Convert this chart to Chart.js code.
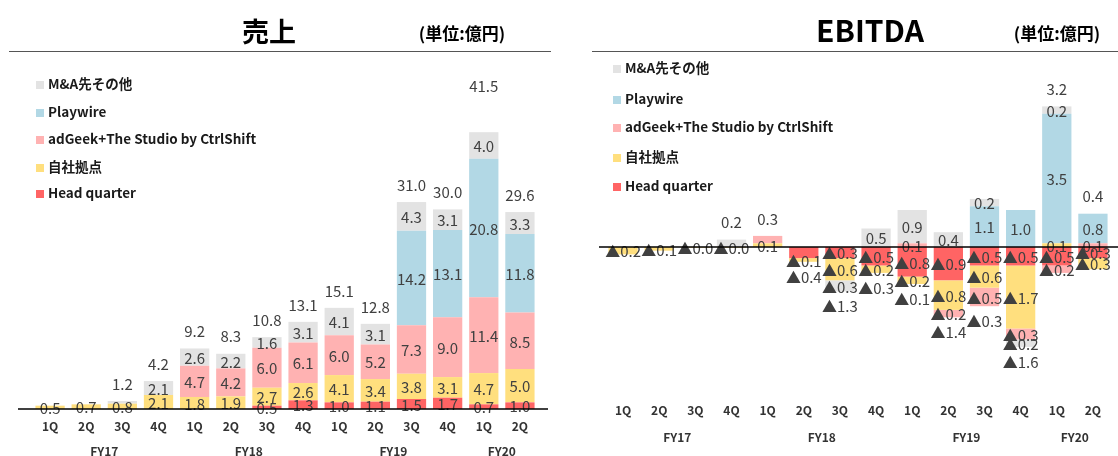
<!DOCTYPE html>
<html><head><meta charset="utf-8">
<script src="https://cdn.jsdelivr.net/npm/chart.js@4.4.0/dist/chart.umd.min.js"></script>
<style>
html,body{margin:0;padding:0;background:#fff;width:1118px;height:456px;overflow:hidden;font-family:"Noto Sans CJK JP",sans-serif;}
canvas{position:absolute;top:0;}
#cL{left:0;} #cR{left:560px;}
.t{position:absolute;white-space:nowrap;color:#000;font-weight:bold;transform:translate(-50%,-50%);line-height:1;}
.rule{position:absolute;height:1px;background:#555;}
.lg{position:absolute;font-weight:bold;font-size:13.5px;color:#1a1a1a;white-space:nowrap;line-height:16px;transform:translateY(-50%);}
.sw{display:inline-block;width:8px;height:8px;margin-right:4px;vertical-align:0px;}
</style>
</head><body>
<canvas id="cL" width="560" height="456"></canvas>
<canvas id="cR" width="558" height="456"></canvas>
<div class="t" style="left:269px;top:30px;font-size:27px;">売上</div>
<div class="t" style="left:462px;top:32px;font-size:17px;">(単位:億円)</div>
<div class="rule" style="left:9px;top:51px;width:542px;"></div>
<div class="t" style="left:870px;top:29px;font-size:30px;">EBITDA</div>
<div class="t" style="left:1057px;top:32px;font-size:17px;">(単位:億円)</div>
<div class="rule" style="left:592px;top:51px;width:526px;"></div>
<div id="legL"></div><div id="legR"></div>
<script>
const quarters = ['1Q','2Q','3Q','4Q','1Q','2Q','3Q','4Q','1Q','2Q','3Q','4Q','1Q','2Q'];
const fiscalYears = ['FY17','FY18','FY19','FY20'];
const fyQuarterCounts = [4,4,4,2];
const seriesNames = ['Head quarter','自社拠点','adGeek+The Studio by CtrlShift','Playwire','M&A先その他'];
const seriesColors = ['#FF6464','#FFDF7E','#FFB2B2','#B2D8E5','#E3E3E3'];

// 売上 (億円)
const salesHQ       = [null,null,null,null,null,null,0.5,1.3,1.0,1.1,1.5,1.7,0.7,1.0];
const salesOwn      = [0.5,0.7,0.8,2.1,1.8,1.9,2.7,2.6,4.1,3.4,3.8,3.1,4.7,5.0];
const salesAdGeek   = [null,null,null,null,4.7,4.2,6.0,6.1,6.0,5.2,7.3,9.0,11.4,8.5];
const salesPlaywire = [null,null,null,null,null,null,null,null,null,null,14.2,13.1,20.8,11.8];
const salesMA       = [null,null,0.4,2.1,2.6,2.2,1.6,3.1,4.1,3.1,4.3,3.1,4.0,3.3];
const salesTotals   = [null,null,1.2,4.2,9.2,8.3,10.8,13.1,15.1,12.8,31.0,30.0,41.5,29.6];

// EBITDA (億円)
const ebitdaHQ       = [null,null,null,null,null,-0.3,-0.3,-0.5,-0.8,-0.9,-0.5,-0.5,-0.5,-0.3];
const ebitdaOwn      = [-0.2,-0.1,-0.02,-0.02,0.1,-0.1,-0.6,-0.2,-0.2,-0.8,-0.6,-1.7,0.1,-0.3];
const ebitdaAdGeek   = [null,null,null,null,0.2,null,null,null,0.1,-0.2,-0.5,-0.3,-0.2,0.1];
const ebitdaPlaywire = [null,null,null,null,null,null,null,null,null,null,1.1,1.0,3.5,0.8];
const ebitdaMA       = [null,null,null,0.2,null,null,-0.3,0.5,0.9,0.4,0.2,-0.2,0.2,null];
const ebitdaTotals   = [null,null,null,0.2,0.3,-0.4,-1.3,-0.3,-0.1,-1.4,-0.3,-1.6,3.2,0.4];

const FONT = "'Noto Sans CJK JP', 'Noto Sans', sans-serif";
function fmt(v){ return v < 0 ? '▲' + Math.abs(v).toFixed(1) : v.toFixed(1); }

function makeLabelPlugin(cfg){
  return {
    id: 'stackLabels',
    afterDatasetsDraw(chart){
      const ctx = chart.ctx, ys = chart.scales.y, xs = chart.scales.x, ca = chart.chartArea;
      ctx.save();
      ctx.font = cfg.font; ctx.fillStyle = '#404040';
      ctx.textAlign = 'center'; ctx.textBaseline = 'middle';
      chart.data.datasets.forEach((ds, di) => {
        const meta = chart.getDatasetMeta(di);
        meta.data.forEach((bar, i) => {
          const v = ds.data[i];
          if (v === null || v === undefined) return;
          if (cfg.skip.some(s => s[0] === di && s[1] === i)) return;
          ctx.fillText(fmt(v), bar.x, (bar.y + bar.base) / 2 + 1);
        });
      });
      cfg.totals.forEach((t, i) => {
        if (t === null) return;
        let pos = 0, neg = 0;
        chart.data.datasets.forEach(ds => { const v = ds.data[i]; if (v > 0) pos += v; else if (v < 0) neg += v; });
        const x = xs.getPixelForValue(i);
        const y = t >= 0 ? ys.getPixelForValue(pos) - cfg.gapAbove + (cfg.nudge[i] || 0)
                         : ys.getPixelForValue(neg) + cfg.gapBelow;
        ctx.fillText(fmt(t), x, y);
      });
      const y0 = ys.getPixelForValue(0);
      ctx.strokeStyle = '#000'; ctx.lineWidth = 1.6;
      ctx.beginPath(); ctx.moveTo(ca.left - cfg.extL, y0); ctx.lineTo(ca.right + cfg.extR, y0); ctx.stroke();
      ctx.font = 'bold 12px ' + FONT; ctx.fillStyle = '#333';
      let start = 0;
      fyQuarterCounts.forEach((n, g) => {
        const x = (xs.getPixelForValue(start) + xs.getPixelForValue(start + n - 1)) / 2;
        ctx.fillText(fiscalYears[g], x, ca.bottom + cfg.fyDy);
        start += n;
      });
      ctx.restore();
    }
  };
}

function makeDatasets(arrs){
  return arrs.map((d, k) => ({
    label: seriesNames[k], data: d, backgroundColor: seriesColors[k],
    borderWidth: 0, barPercentage: 0.81, categoryPercentage: 1.0
  }));
}

function makeChart(id, arrs, yMin, yMax, pad, axisH, tickPad, plugin){
  return new Chart(document.getElementById(id), {
    type: 'bar',
    data: { labels: quarters, datasets: makeDatasets(arrs) },
    options: {
      responsive: false, animation: false, devicePixelRatio: 1,
      layout: { padding: pad },
      plugins: { legend: { display: false }, tooltip: { enabled: false } },
      scales: {
        x: { stacked: true, grid: { display: false, drawTicks: false }, border: { display: false },
             ticks: { font: { family: FONT, size: 12, weight: 'bold' }, color: '#333', padding: tickPad, maxRotation: 0 },
             afterFit: s => { s.height = axisH; } },
        y: { stacked: true, display: false, min: yMin, max: yMax }
      }
    },
    plugins: [plugin]
  });
}

makeChart('cL', [salesHQ, salesOwn, salesAdGeek, salesPlaywire, salesMA], 0, 52,
  { left: 32, right: 22, top: 63, bottom: 0 }, 47, 10,
  makeLabelPlugin({ font: '15px ' + FONT, totals: salesTotals, skip: [[4,2]], gapAbove: 17, gapBelow: 15,
    nudge: { 12: -29 }, extL: 14, extR: 10, fyDy: 42 }));

makeChart('cR', [ebitdaHQ, ebitdaOwn, ebitdaAdGeek, ebitdaPlaywire, ebitdaMA], -4, 5,
  { left: 45, right: 7, top: 62, bottom: 0 }, 61, 8,
  makeLabelPlugin({ font: '15px ' + FONT, totals: ebitdaTotals, skip: [[4,3],[2,4],[0,5]], gapAbove: 17, gapBelow: 15,
    nudge: {}, extL: 6, extR: 10, fyDy: 42 }));

function legend(el, x, ys){
  const host = document.getElementById(el);
  for (let k = seriesNames.length - 1, r = 0; k >= 0; k--, r++) {
    const d = document.createElement('div');
    d.className = 'lg';
    d.style.left = x + 'px'; d.style.top = ys[r] + 'px';
    const sw = document.createElement('span'); sw.className = 'sw'; sw.style.background = seriesColors[k];
    d.appendChild(sw); d.appendChild(document.createTextNode(seriesNames[k]));
    host.appendChild(d);
  }
}
legend('legL', 36, [82.7, 110.7, 137.7, 165.7, 192.3]);
legend('legR', 613, [67.3, 97.7, 126.3, 156, 185.3]);
</script>
</body></html>
